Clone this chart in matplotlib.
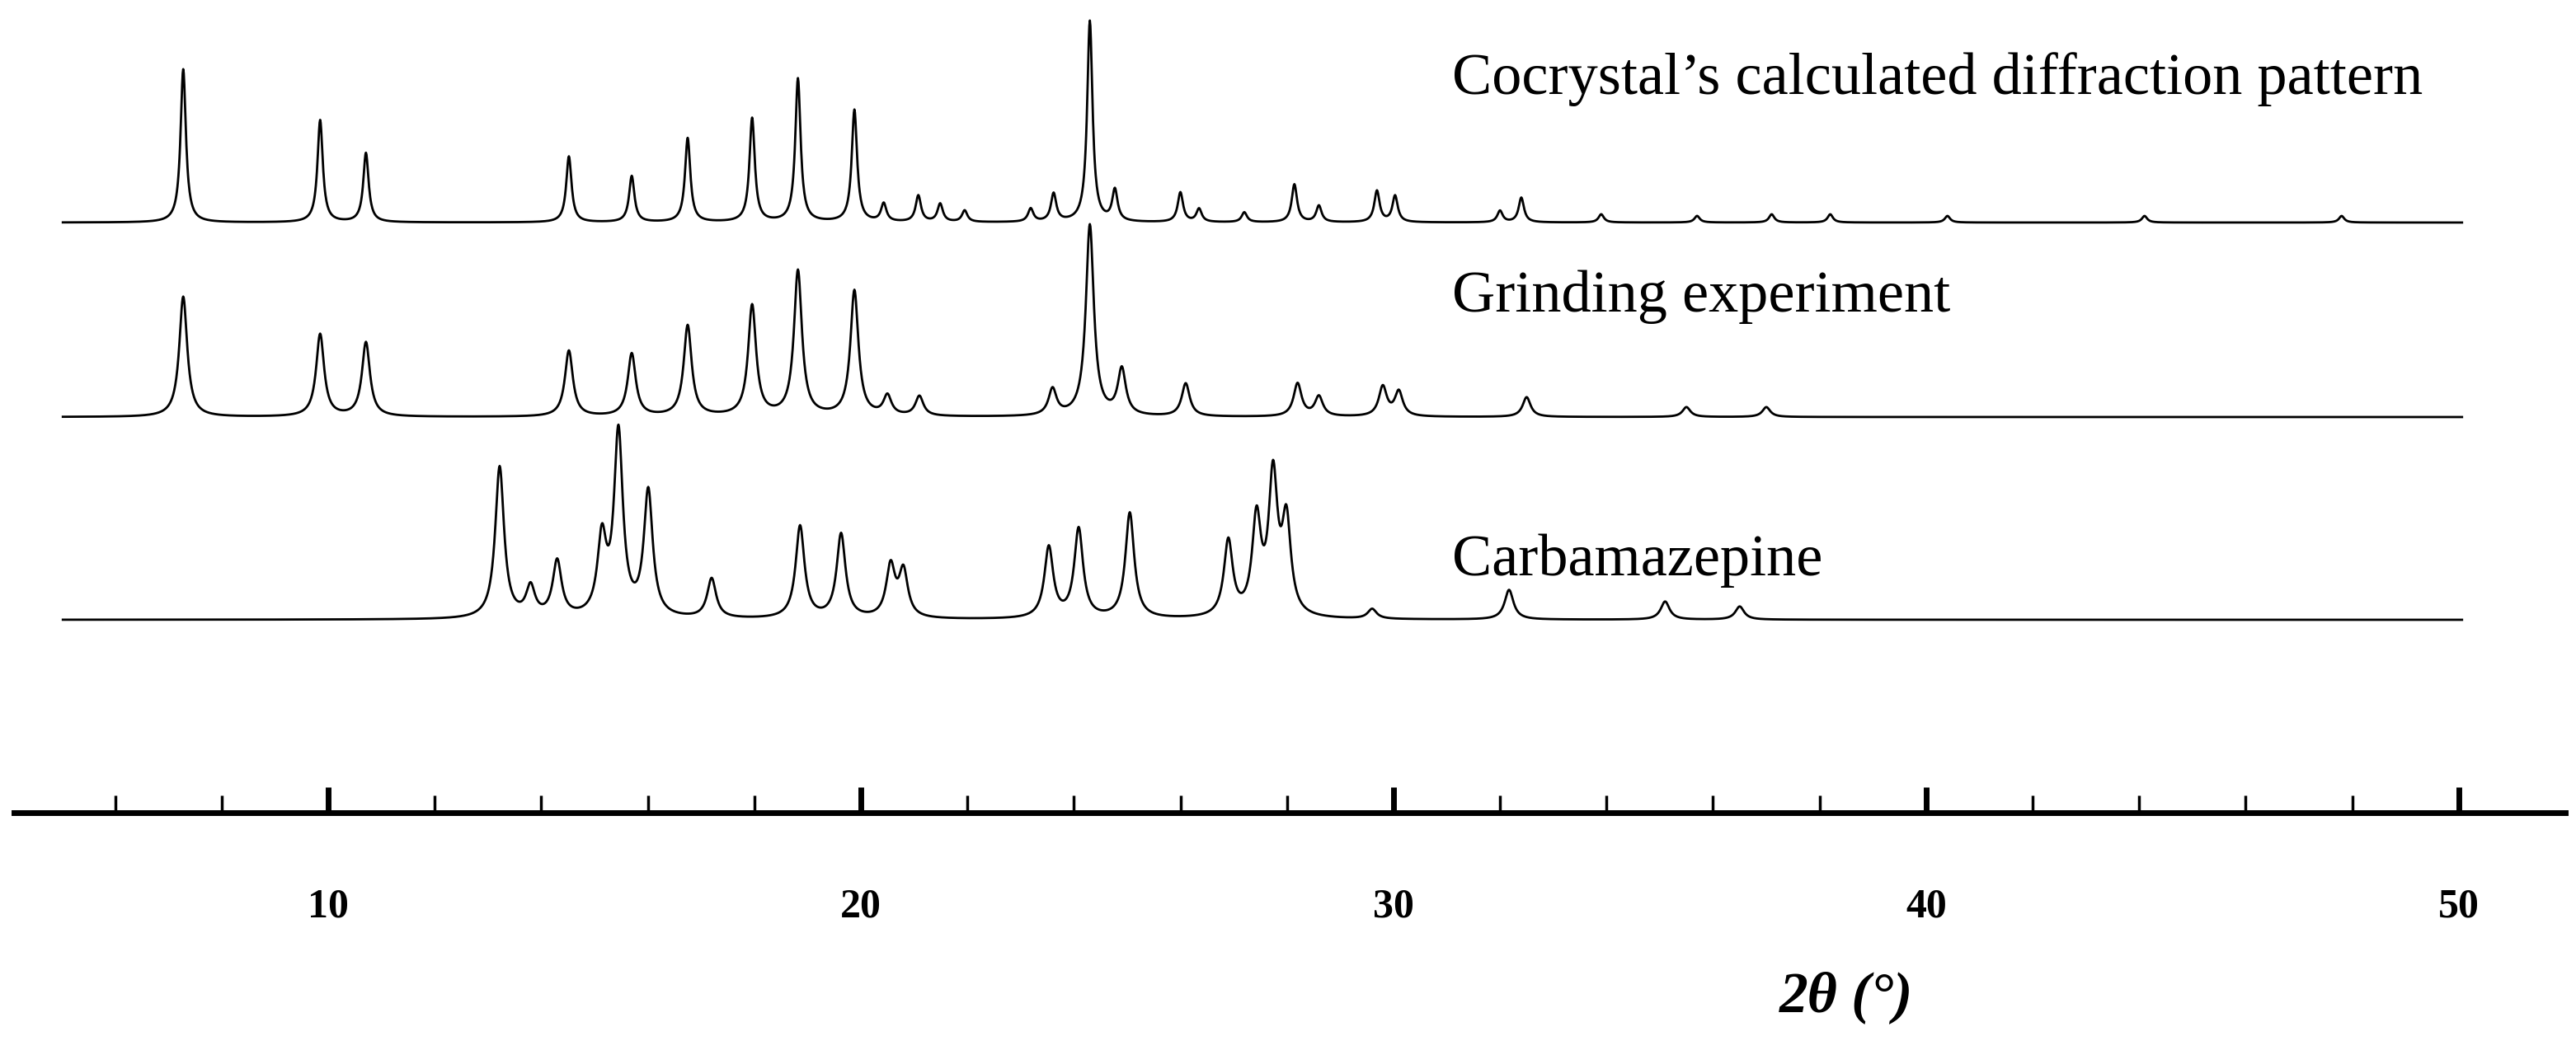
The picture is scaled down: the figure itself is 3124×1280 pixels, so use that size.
import numpy as np
import matplotlib.pyplot as plt

# peak positions (2theta, deg) and heights (arbitrary units)
cocrystal_pos = [7.28, 9.85, 10.71, 14.52, 15.70, 16.75, 17.96, 18.82, 19.88, 20.43, 21.08,
                 21.49, 21.95, 23.19, 23.62, 24.30, 24.77, 26.00, 26.35, 27.20, 28.14, 28.60,
                 29.69, 30.03, 32.00, 32.40, 33.90, 35.70, 37.10, 38.20, 40.40, 44.10, 47.80]
cocrystal_h = [93, 62, 42, 40, 28, 51, 63, 87, 68, 11, 16, 11, 7, 8, 17, 122, 19, 18, 8, 6,
               23, 10, 19, 16, 7, 15, 5, 4, 5, 5, 4, 4, 4]

grinding_pos = [7.28, 9.85, 10.71, 14.52, 15.70, 16.75, 17.96, 18.82, 19.88, 20.50, 21.10,
                23.60, 24.30, 24.90, 26.10, 28.20, 28.60, 29.80, 30.10, 32.50, 35.50, 37.00]
grinding_h = [73, 50, 45, 40, 38, 55, 67, 88, 76, 12, 12, 16, 116, 28, 20, 20, 12, 18, 15, 12, 6, 6]

cbz_pos = [13.22, 13.80, 14.30, 15.14, 15.45, 16.01, 17.20, 18.86, 19.63, 20.56, 20.80,
           23.53, 24.09, 25.05, 26.90, 27.43, 27.74, 27.99, 29.60, 32.17, 35.10, 36.50]
cbz_h = [92, 18, 34, 46, 111, 76, 24, 56, 51, 31, 28, 43, 54, 64, 46, 58, 83, 56, 6, 18, 11, 8]

labels = ["Cocrystal\u2019s calculated diffraction pattern", "Grinding experiment", "Carbamazepine"]
baselines = [135, 253, 376]          # vertical offsets of the stacked traces
widths = [0.12, 0.18, 0.2]
label_y = [48, 180, 340]

two_theta = np.arange(5.02, 50.06, 0.01)


def pattern(pos, h, w):
    y = np.zeros_like(two_theta)
    for p, a in zip(pos, h):
        y += a / (1 + ((two_theta - p) / (w / 2)) ** 2)
    return y


fig = plt.figure(figsize=(31.24, 12.8), dpi=100)
ax = fig.add_axes([0, 0, 1, 1])
ax.set_xlim(3.84, 52.2)
ax.set_ylim(640, 0)

series = [(cocrystal_pos, cocrystal_h), (grinding_pos, grinding_h), (cbz_pos, cbz_h)]
for (pos, h), base, w, lab, ly in zip(series, baselines, widths, labels, label_y):
    ax.plot(two_theta, base - pattern(pos, h, w), color="black", lw=2)
    ax.text(31.1, ly, lab, fontsize=52, family="Liberation Serif", va="center", ha="left")

for s in ["top", "left", "right"]:
    ax.spines[s].set_visible(False)
ax.spines["bottom"].set_position(("data", 493))
ax.spines["bottom"].set_linewidth(5)
ax.spines["bottom"].set_bounds(4.1, 52.0)
ax.set_yticks([])
ax.set_xticks([10, 20, 30, 40, 50])
ax.set_xticks(np.arange(6, 52, 2), minor=True)
ax.tick_params(axis="x", which="major", direction="in", length=22, width=5, pad=66,
               labelsize=36)
ax.tick_params(axis="x", which="minor", direction="in", length=15, width=2.5)
for t in ax.get_xticklabels():
    t.set_fontfamily("Liberation Serif")
    t.set_fontweight("bold")
ax.text(38.5, 605, "2\u03b8 (\u00b0)", fontsize=50, family="Liberation Serif",
        weight="bold", style="italic", ha="center", va="center")

fig.savefig("out.png", dpi=100)
